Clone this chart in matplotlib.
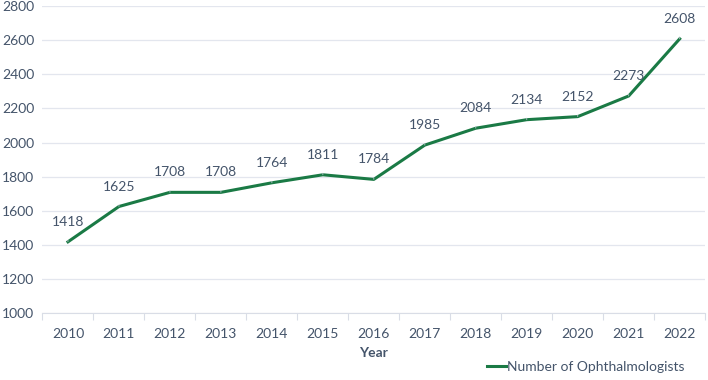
import matplotlib.pyplot as plt

years = ['2010', '2011', '2012', '2013', '2014', '2015', '2016',
         '2017', '2018', '2019', '2020', '2021', '2022']
ophthalmologists = [1418, 1625, 1708, 1708, 1764, 1811, 1784,
                    1985, 2084, 2134, 2152, 2273, 2608]

text_col = '#44546a'
line_col = '#1a7a45'
grid_col = '#e3e6ee'

plt.rcParams['font.family'] = ['Lato', 'DejaVu Sans']

fig = plt.figure(figsize=(7.08, 3.80), dpi=100)
ax = fig.add_axes([0.06, 0.176, 0.936, 0.808])

x = list(range(len(years)))
ax.plot(x, ophthalmologists, color=line_col, lw=2.2, label='Number of Ophthalmologists')

# data labels with small leader lines
for xi, v in zip(x, ophthalmologists):
    ax.annotate(str(v), xy=(xi, v), xytext=(0, 20), textcoords='offset pixels',
                ha='center', va='center', fontsize=10, color=text_col,
                arrowprops=dict(arrowstyle='-', color='#b8bfcc', lw=0.6,
                                shrinkA=7, shrinkB=0))

ax.set_xlim(-0.5, len(years) - 0.5)
ax.set_ylim(1000, 2800)
ax.set_yticks(range(1000, 2801, 200))
ax.set_xticks(x)
ax.set_xticklabels(years)
ax.set_xticks([i + 0.5 for i in range(-1, len(years))], minor=True)
ax.tick_params(axis='x', which='major', length=0, pad=11, labelsize=10, labelcolor=text_col)
ax.tick_params(axis='x', which='minor', length=5, color='#d9dde6', width=0.8)
ax.tick_params(axis='y', length=0, pad=6, labelsize=10, labelcolor=text_col)

ax.grid(axis='y', color=grid_col, lw=0.9)
ax.set_axisbelow(True)
for s in ['top', 'right', 'left']:
    ax.spines[s].set_visible(False)
ax.spines['bottom'].set_color('#d9dde6')

ax.set_xlabel('Year', fontsize=10, fontweight='bold', color=text_col, labelpad=5)

fig.legend(loc='lower right', bbox_to_anchor=(0.985, -0.015), frameon=False,
           fontsize=10, labelcolor=text_col, handlelength=1.4, handletextpad=0.1)

fig.savefig('out.png', dpi=100)
